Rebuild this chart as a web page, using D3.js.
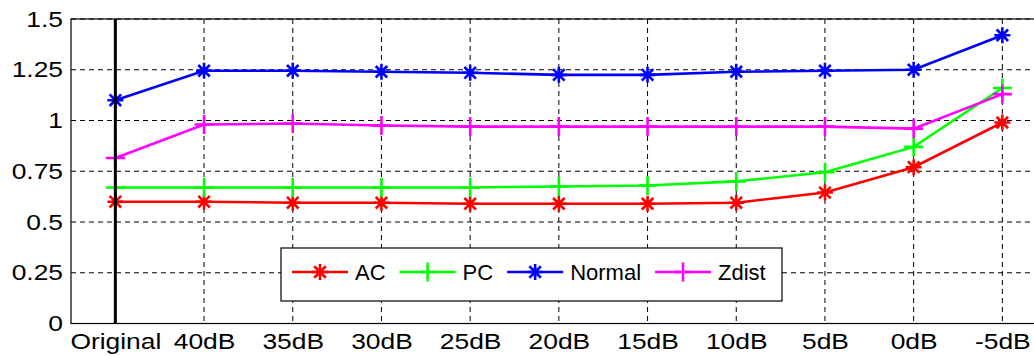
<!DOCTYPE html>
<html>
<head>
<meta charset="utf-8">
<script src="https://cdn.jsdelivr.net/npm/d3@7"></script>
<style>
  html, body { margin: 0; padding: 0; background: #fff; }
  svg text { font-family: "Liberation Sans", Arial, sans-serif; fill: #000; }
</style>
</head>
<body>
<div id="chart"></div>
<script>
// data
const categories = ["Original", "40dB", "35dB", "30dB", "25dB", "20dB", "15dB", "10dB", "5dB", "0dB", "-5dB"];
const acValues     = [0.60, 0.60, 0.595, 0.595, 0.59, 0.59, 0.59, 0.595, 0.645, 0.77, 0.99];
const pcValues     = [0.67, 0.67, 0.67, 0.67, 0.67, 0.675, 0.68, 0.70, 0.745, 0.87, 1.16];
const normalValues = [1.10, 1.245, 1.245, 1.24, 1.235, 1.225, 1.225, 1.24, 1.245, 1.25, 1.42];
const zdistValues  = [0.815, 0.98, 0.985, 0.975, 0.97, 0.97, 0.97, 0.97, 0.97, 0.96, 1.13];
const yTicks = [0, 0.25, 0.5, 0.75, 1, 1.25, 1.5];
const yTickLabels = ["0", "0.25", "0.5", "0.75", "1", "1.25", "1.5"];

const series = [
  { name: "AC",     values: acValues,     color: "#ff0000", marker: "star" },
  { name: "PC",     values: pcValues,     color: "#00ff00", marker: "plus" },
  { name: "Normal", values: normalValues, color: "#0000ff", marker: "star" },
  { name: "Zdist",  values: zdistValues,  color: "#ff00ff", marker: "plus" }
];

document.addEventListener("DOMContentLoaded", () => {
  const width = 1034, height = 356;
  const plotLeft = 71, plotTop = 19, plotBottom = 323.5;
  const step = 88.7;
  const sx = 1.2; // axis glyphs look stretched horizontally

  const svg = d3.select("#chart").append("svg")
    .attr("width", width).attr("height", height);

  const x = d3.scaleLinear().domain([-0.5, categories.length - 0.5])
    .range([plotLeft, plotLeft + step * categories.length]);
  const y = d3.scaleLinear().domain([0, 1.5]).range([plotBottom, plotTop]);
  const plotRight = x.range()[1];

  // grid
  const grid = svg.append("g")
    .attr("stroke", "#000").attr("stroke-width", 1).attr("stroke-dasharray", "5,4");
  grid.selectAll("line.h").data(yTicks).enter().append("line")
    .attr("x1", plotLeft).attr("x2", plotRight)
    .attr("y1", d => y(d)).attr("y2", d => y(d));
  grid.selectAll("line.v").data(d3.range(1, categories.length)).enter().append("line")
    .attr("x1", d => x(d)).attr("x2", d => x(d))
    .attr("y1", plotTop).attr("y2", plotBottom);

  // axes
  const yAxis = svg.append("g")
    .attr("transform", `translate(${plotLeft},0)`)
    .call(d3.axisLeft(y).tickValues(yTicks).tickFormat((d, i) => yTickLabels[i]).tickSize(0).tickPadding(0));
  yAxis.select(".domain").remove();
  yAxis.selectAll("text")
    .attr("font-size", 22)
    .attr("font-family", "Liberation Sans, Arial, sans-serif")
    .attr("x", -8 / sx)
    .attr("transform", `scale(${sx},1)`);

  const xAxis = svg.append("g")
    .attr("transform", `translate(0,${plotBottom})`)
    .call(d3.axisBottom(x).tickValues(d3.range(categories.length)).tickFormat(i => categories[i]).tickSize(0).tickPadding(0));
  xAxis.select(".domain").remove();
  xAxis.selectAll("text")
    .attr("font-size", 22)
    .attr("font-family", "Liberation Sans, Arial, sans-serif")
    .attr("y", 10)
    .attr("transform", `scale(${sx},1)`);

  // box
  svg.append("rect")
    .attr("x", plotLeft).attr("y", plotTop)
    .attr("width", plotRight - plotLeft).attr("height", plotBottom - plotTop)
    .attr("fill", "none").attr("stroke", "#000").attr("stroke-width", 1.2);

  function drawMarker(g, type, color, size) {
    const r = size / 2;
    let d;
    if (type === "plus") {
      d = `M${-r},0H${r}M0,${-r}V${r}`;
    } else {
      const q = r * 0.72;
      d = `M${-r},0H${r}M0,${-r}V${r}M${-q},${-q}L${q},${q}M${-q},${q}L${q},${-q}`;
    }
    g.append("path").attr("d", d).attr("stroke", color).attr("stroke-width", 2.6).attr("fill", "none");
  }

  const line = d3.line().x((d, i) => x(i)).y(d => y(d));

  series.forEach(s => {
    const g = svg.append("g");
    g.append("path").datum(s.values)
      .attr("d", line)
      .attr("fill", "none").attr("stroke", s.color).attr("stroke-width", 2.6);
    s.values.forEach((v, i) => {
      const m = g.append("g").attr("transform", `translate(${x(i)},${y(v)})`);
      drawMarker(m, s.marker, s.color, s.marker === "plus" ? 19 : 16);
    });
  });

  // thick line marking the original
  svg.append("line")
    .attr("x1", x(0)).attr("x2", x(0))
    .attr("y1", plotTop).attr("y2", plotBottom)
    .attr("stroke", "#000").attr("stroke-width", 3);

  // legend
  const legend = svg.append("g");
  legend.append("rect")
    .attr("x", 281).attr("y", 248).attr("width", 501).attr("height", 53)
    .attr("fill", "#fff").attr("stroke", "#000").attr("stroke-width", 1.2);
  const ly = 272;
  let cx = 292;
  series.forEach(s => {
    legend.append("line")
      .attr("x1", cx).attr("x2", cx + 56)
      .attr("y1", ly).attr("y2", ly)
      .attr("stroke", s.color).attr("stroke-width", 2.6);
    const m = legend.append("g").attr("transform", `translate(${cx + 28},${ly})`);
    drawMarker(m, s.marker, s.color, s.marker === "plus" ? 19 : 16);
    const tx = cx + 63;
    const t = legend.append("text")
      .attr("x", tx).attr("y", ly + 8)
      .attr("font-size", 22)
      .text(s.name);
    cx = tx + t.node().getComputedTextLength() + 14;
  });
});
</script>
</body>
</html>
